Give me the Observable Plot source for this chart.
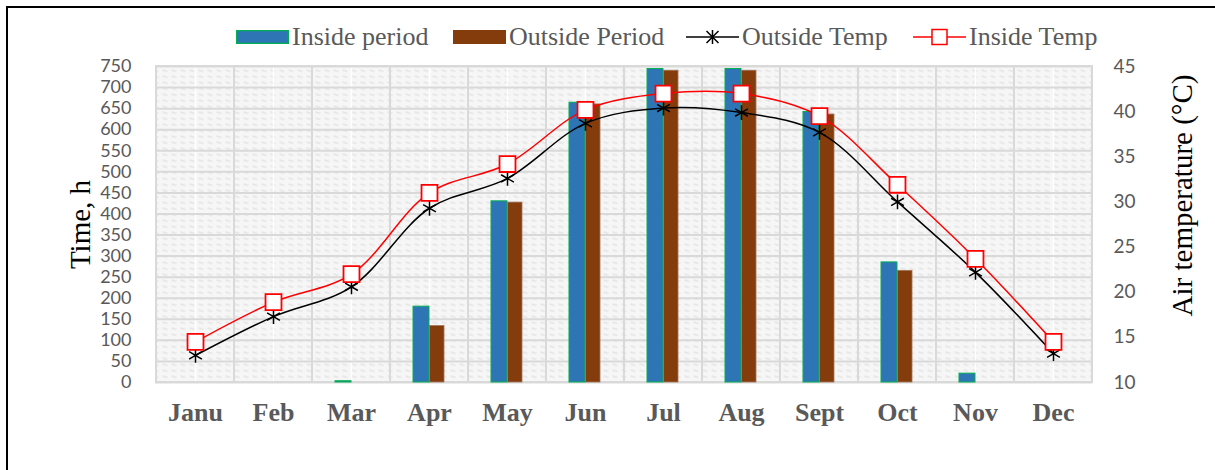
<!DOCTYPE html>
<html><head><meta charset="utf-8">
<script src="https://cdn.jsdelivr.net/npm/d3@7"></script>
<script src="https://cdn.jsdelivr.net/npm/@observablehq/plot@0.6"></script>
<style>
html,body{margin:0;padding:0;background:#fff;width:1215px;height:470px;overflow:hidden;position:relative}
#border{position:absolute;left:6px;top:6px;width:1400px;height:700px;border:2px solid #000;pointer-events:none}
#legend{height:56px;position:relative;font-family:"Liberation Serif","Times New Roman",serif;font-size:26px;color:#595959}
.item{position:absolute;top:22px;height:30px;display:flex;align-items:center;white-space:nowrap}
.item svg{margin-right:3px}
#chart{display:block}
</style></head>
<body>
<div id="legend"></div>
<div id="chart"></div>
<div id="border"></div>
<script>
const months = ["Janu","Feb","Mar","Apr","May","Jun","Jul","Aug","Sept","Oct","Nov","Dec"];
const insidePeriod = [0,0,3,180,430,664,744,744,642,285,21,0];
const outsidePeriod = [0,0,0,134,427,660,740,740,636,265,0,0];
const outsideTemp = [13.0,17.3,20.6,29.3,32.6,38.7,40.4,39.9,37.7,30.0,22.2,13.2];
const insideTemp = [14.5,18.9,22.0,31.0,34.2,40.2,42.0,42.0,39.5,31.9,23.7,14.5];
const hourTicks = [0,50,100,150,200,250,300,350,400,450,500,550,600,650,700,750];
const tempTicks = [10,15,20,25,30,35,40,45];
const seriesNames = ["Inside period","Outside Period","Outside Temp","Inside Temp"];

const tMin = 10, tMax = 45, hMax = 750;
const toH = t => (t - tMin) * hMax / (tMax - tMin);
const toT = h => h * (tMax - tMin) / hMax + tMin;

const rows = months.map((m, i) => ({
  month: m, inside: insidePeriod[i], outside: outsidePeriod[i],
  tOut: outsideTemp[i], tIn: insideTemp[i]
}));

// Legend
const legend = document.getElementById("legend");
const lg = [
  {left: 236, svg: `<svg width="53" height="14"><rect x="0.5" y="0.5" width="52" height="13" fill="#2e75b6" stroke="#00b050" stroke-width="1.5"/></svg>`},
  {left: 453, svg: `<svg width="53" height="14"><rect x="0" y="0" width="53" height="14" fill="#843c0c"/></svg>`},
  {left: 686, svg: `<svg width="53" height="20"><line x1="0" y1="10" x2="53" y2="10" stroke="#000" stroke-width="1.5"/><path transform="translate(26.5,10)" d="M0,-7V7M-6,-6L6,6M-6,6L6,-6" stroke="#000" stroke-width="1.5"/></svg>`},
  {left: 913, svg: `<svg width="53" height="20"><line x1="0" y1="10" x2="53" y2="10" stroke="#ff0000" stroke-width="1.5"/><rect x="19" y="2.5" width="15" height="15" fill="#fff" stroke="#ff0000" stroke-width="1.5"/></svg>`}
];
lg.forEach((d, i) => {
  const el = document.createElement("div");
  el.className = "item";
  el.style.left = d.left + "px";
  el.innerHTML = d.svg + `<span>${seriesNames[i]}</span>`;
  legend.appendChild(el);
});

const chart = Plot.plot({
  width: 1215, height: 414,
  marginTop: 10, marginBottom: 88, marginLeft: 155, marginRight: 123,
  x: {domain: months, padding: 0, axis: null},
  y: {domain: [0, hMax], axis: null},
  style: {background: "transparent", overflow: "visible", color: "#595959"},
  marks: [
    Plot.frame({fill: "url(#hatch)", stroke: "none"}),
    Plot.ruleX(months, {x: d => d, stroke: "#ffffff", strokeWidth: 1.5}),
    Plot.ruleY(hourTicks, {y: d => d, stroke: "#d9d9d9", strokeWidth: 2}),
    Plot.barY(months, {x: d => d, y1: 0, y2: hMax, fill: "none", stroke: "#d9d9d9", strokeWidth: 2}),
    Plot.barY(rows.filter(d => d.inside > 0), {x: "month", y: "inside", fill: "#2e75b6", stroke: "#00b050", strokeWidth: 1, insetLeft: 23, insetRight: 39}),
    Plot.barY(rows.filter(d => d.outside > 0), {x: "month", y: "outside", fill: "#843c0c", stroke: "#a0735a", strokeWidth: 0.8, insetLeft: 39.5, insetRight: 24}),
    Plot.line(rows, {x: "month", y: d => toH(d.tOut), stroke: "#000", strokeWidth: 1.5, curve: "catmull-rom"}),
    Plot.dot(rows, {x: "month", y: d => toH(d.tOut), symbol: "asterisk", r: 7, stroke: "#000", strokeWidth: 1.5}),
    Plot.line(rows, {x: "month", y: d => toH(d.tIn), stroke: "#ff0000", strokeWidth: 1.5, curve: "catmull-rom"}),
    Plot.dot(rows, {x: "month", y: d => toH(d.tIn), symbol: "square", r: 9, fill: "#fff", stroke: "#ff0000", strokeWidth: 1.8}),
    Plot.axisX({tickSize: 0, tickPadding: 20, fontSize: 26, fontWeight: "bold", fontFamily: "Liberation Serif", fill: "#595959", label: null}),
    Plot.axisY(hourTicks, {anchor: "left", tickSize: 0, tickPadding: 24, fontSize: 18, fontFamily: "Lato", fill: "#595959", label: null}),
    Plot.axisY(tempTicks.map(toH), {anchor: "right", tickSize: 0, tickPadding: 21, fontSize: 19, fontFamily: "Lato", fill: "#595959", label: null, tickFormat: d => String(Math.round(toT(d)))}),
    Plot.text(["Time, h"], {frameAnchor: "left", textAnchor: "middle", dx: -75, rotate: -90, fontSize: 29, fontFamily: "Liberation Serif", fill: "#000"}),
    Plot.text(["Air temperature (°C)"], {frameAnchor: "right", textAnchor: "middle", dx: 90, dy: -29, rotate: -90, fontSize: 29, fontFamily: "Liberation Serif", fill: "#000"})
  ]
});

const ns = "http://www.w3.org/2000/svg";
const defs = document.createElementNS(ns, "defs");
defs.innerHTML = `<pattern id="hatch" width="9" height="6" patternUnits="userSpaceOnUse"><rect width="9" height="6" fill="#f6f6f6"/><path d="M0,1.5 L5,3" stroke="#dedede" stroke-width="1.2"/></pattern>`;
chart.insertBefore(defs, chart.firstChild);
document.getElementById("chart").appendChild(chart);
</script>
</body></html>
